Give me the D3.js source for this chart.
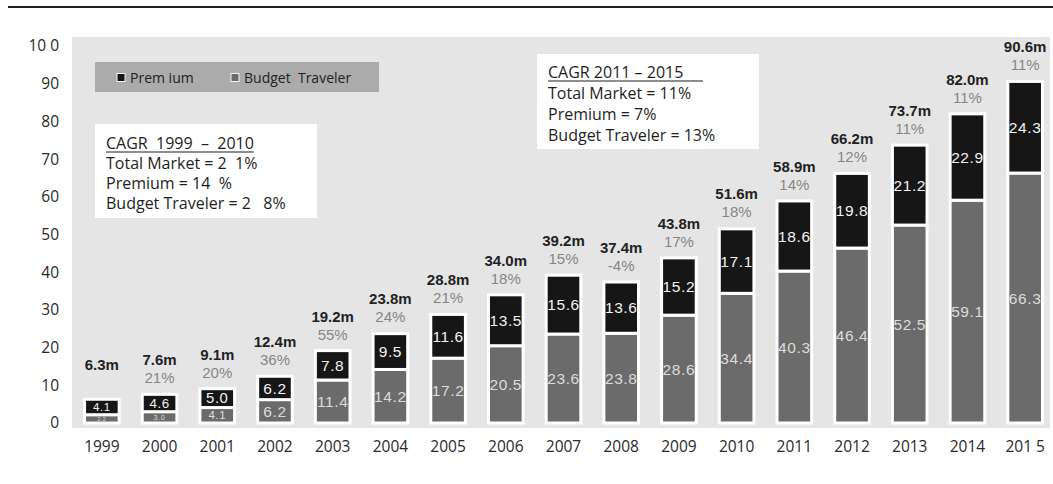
<!DOCTYPE html>
<html>
<head>
<meta charset="utf-8">
<script src="https://cdn.jsdelivr.net/npm/d3@7/dist/d3.min.js"></script>
<style>
  html, body { margin: 0; padding: 0; background: #fff; }
  svg { display: block; }
  text { white-space: pre; }
</style>
</head>
<body>
<svg id="chart" width="1053" height="484"></svg>
<script>
// Travel market size (millions), split into Premium and Budget Traveler
const years = ["1999","2000","2001","2002","2003","2004","2005","2006","2007","2008","2009","2010","2011","2012","2013","2014","2015"];
const yearLabels = ["1999","2000","2001","2002","2003","2004","2005","2006","2007","2008","2009","2010","2011","2012","2013","2014","201 5"];
const budget  = [2.2, 3.0, 4.1, 6.2, 11.4, 14.2, 17.2, 20.5, 23.6, 23.8, 28.6, 34.4, 40.3, 46.4, 52.5, 59.1, 66.3];
const premium = [4.1, 4.6, 5.0, 6.2, 7.8, 9.5, 11.6, 13.5, 15.6, 13.6, 15.2, 17.1, 18.6, 19.8, 21.2, 22.9, 24.3];
const totals  = [6.3, 7.6, 9.1, 12.4, 19.2, 23.8, 28.8, 34.0, 39.2, 37.4, 43.8, 51.6, 58.9, 66.2, 73.7, 82.0, 90.6];
const growth  = ["", "21%", "20%", "36%", "55%", "24%", "21%", "18%", "15%", "-4%", "17%", "18%", "14%", "12%", "11%", "11%", "11%"];
const yTicks = [0, 10, 20, 30, 40, 50, 60, 70, 80, 90, 100];
const yTickLabels = ["0", "10", "20", "30", "40", "50", "60", "70", "80", "90", "10 0"];
const seriesNames = ["Prem ium", "Budget  Traveler"];
const cagrEarly = ["CAGR  1999  \u2013  2010", "Total Market = 2  1%", "Premium = 14  %", "Budget Traveler = 2   8%"];
const cagrLate  = ["CAGR 2011 \u2013 2015", "Total Market = 11%", "Premium = 7%", "Budget Traveler = 13%"];

const svg = d3.select("#chart");
const W = 1053, H = 484;
const plot = { left: 72, right: 1050, top: 37, bottom: 428 };

const C = {
  premium: "#161616",
  budget: "#6b6b6b",
  panel: "#e5e5e5",
  legend: "#ababab",
  total: "#222",
  growth: "#858585",
  axis: "#2a2a2a"
};

const rows = years.map((yr, i) => ({
  year: yr, label: yearLabels[i], budget: budget[i], premium: premium[i],
  total: totals[i], growth: growth[i]
}));

const x = d3.scaleBand().domain(years).range([73, 1054]).paddingInner(0.4).paddingOuter(0.2);
const y = d3.scaleLinear().domain([0, 100]).range([423, 46]);

// top rule
svg.append("line").attr("x1", 8).attr("x2", W).attr("y1", 7).attr("y2", 7)
  .attr("stroke", "#222").attr("stroke-width", 2);

// plot panel
svg.append("rect").attr("x", plot.left).attr("y", plot.top)
  .attr("width", plot.right - plot.left).attr("height", plot.bottom - plot.top)
  .attr("fill", C.panel);

// axes
const yAxis = d3.axisLeft(y).tickValues(yTicks)
  .tickFormat((d, i) => yTickLabels[i]).tickSize(0).tickPadding(13);
svg.append("g").attr("transform", `translate(${plot.left},0)`).call(yAxis)
  .call(g => g.select(".domain").remove())
  .selectAll("text").attr("font-family", "'Open Sans', sans-serif")
  .attr("font-size", 15.5).attr("fill", C.axis);

const xAxis = d3.axisBottom(x).tickFormat((d, i) => yearLabels[i]).tickSize(0).tickPadding(13);
svg.append("g").attr("transform", `translate(0,${plot.bottom})`).call(xAxis)
  .call(g => g.select(".domain").remove())
  .selectAll("text").attr("font-family", "'Open Sans', sans-serif")
  .attr("font-size", 15.5).attr("fill", C.axis);

// stacked bars
const stack = d3.stack().keys(["budget", "premium"])(rows);
const colors = { budget: C.budget, premium: C.premium };

const layers = svg.append("g").selectAll("g").data(stack).join("g")
  .attr("fill", d => colors[d.key]);

layers.selectAll("rect").data(d => d).join("rect")
  .attr("x", d => x(d.data.year))
  .attr("width", x.bandwidth())
  .attr("y", d => y(d[1]))
  .attr("height", d => y(d[0]) - y(d[1]))
  .attr("stroke", "#fff").attr("stroke-width", 3);

// segment values
layers.each(function (layer) {
  d3.select(this).selectAll("text").data(layer).join("text")
    .attr("x", d => x(d.data.year) + x.bandwidth() / 2)
    .attr("y", d => (y(d[0]) + y(d[1])) / 2)
    .attr("dy", "0.36em")
    .attr("text-anchor", "middle")
    .attr("font-family", "'Liberation Sans', Arial, sans-serif")
    .attr("font-size", d => Math.min(15.5, Math.max(y(d[0]) - y(d[1]) - 4, 5)))
    .attr("letter-spacing", 0.6)
    .attr("fill", layer.key === "budget" ? "#dcdcdc" : "#f2f2f2")
    .text(d => d.data[layer.key].toFixed(1));
});

// totals and year-over-year growth above each bar
const tops = svg.append("g");
tops.selectAll("text.total").data(rows).join("text").attr("class", "total")
  .attr("x", d => x(d.year) + x.bandwidth() / 2)
  .attr("y", d => y(d.total) - 29)
  .attr("text-anchor", "middle")
  .attr("font-family", "'Liberation Sans', Arial, sans-serif")
  .attr("font-weight", "bold").attr("font-size", 15)
  .attr("fill", C.total)
  .text(d => d.total.toFixed(1) + "m");

tops.selectAll("text.growth").data(rows).join("text").attr("class", "growth")
  .attr("x", d => x(d.year) + x.bandwidth() / 2)
  .attr("y", d => y(d.total) - 11)
  .attr("text-anchor", "middle")
  .attr("font-family", "'Liberation Sans', Arial, sans-serif")
  .attr("font-size", 15)
  .attr("fill", C.growth)
  .text(d => d.growth);

// legend band
const legend = svg.append("g");
legend.append("rect").attr("x", 95).attr("y", 62).attr("width", 284).attr("height", 30)
  .attr("fill", C.legend);
const legendItems = [
  { name: seriesNames[0], color: C.premium, x: 117 },
  { name: seriesNames[1], color: C.budget, x: 231 }
];
const li = legend.selectAll("g.item").data(legendItems).join("g").attr("class", "item")
  .attr("transform", d => `translate(${d.x},78)`);
li.append("rect").attr("x", 0).attr("y", -4.5).attr("width", 8).attr("height", 8)
  .attr("fill", d => d.color).attr("stroke", "#f4f4f4").attr("stroke-width", 1);
li.append("text").attr("x", 13).attr("dy", "0.35em")
  .attr("font-family", "'Open Sans', sans-serif").attr("font-size", 14)
  .attr("fill", "#222").text(d => d.name);

// CAGR notes
function note(lines, bx, by, bw, bh, tx, ty, lh, ulEnd) {
  const g = svg.append("g");
  g.append("rect").attr("x", bx).attr("y", by).attr("width", bw).attr("height", bh).attr("fill", "#fff");
  const t = g.selectAll("text").data(lines).join("text")
    .attr("x", tx).attr("y", (d, i) => ty + i * lh)
    .attr("font-family", "'Open Sans', sans-serif").attr("font-size", 16)
    .attr("fill", "#1e1e1e").text(d => d);
  const w = t.node().getComputedTextLength();
  g.append("line").attr("x1", tx).attr("x2", ulEnd || tx + w)
    .attr("y1", ty + 3).attr("y2", ty + 3).attr("stroke", "#1e1e1e").attr("stroke-width", 1.2);
}
note(cagrEarly, 95, 124, 222, 94, 106, 149, 20);
note(cagrLate, 537, 54, 222, 95, 548, 78, 21, 703);
</script>
</body>
</html>
